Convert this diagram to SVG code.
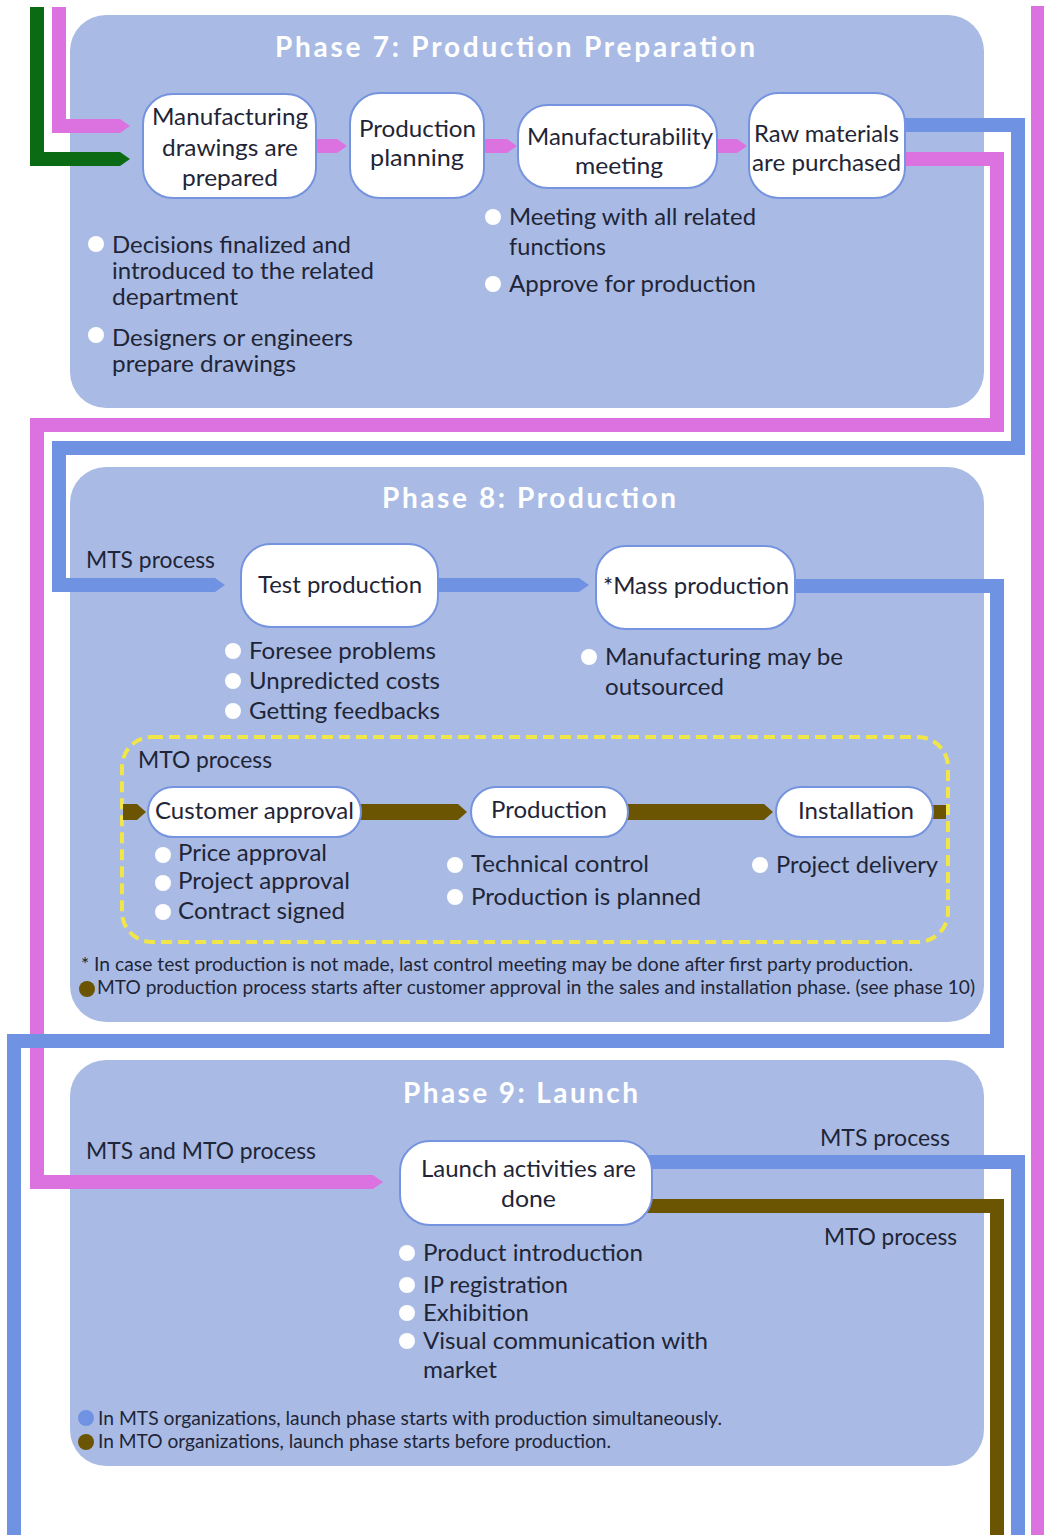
<svg xmlns="http://www.w3.org/2000/svg" width="1044" height="1535" viewBox="0 0 1044 1535">
  <style>
    .panel { fill: #a9bbe4; }
    .node { fill: #ffffff; stroke: #7593de; stroke-width: 2; }
    .t { font-family: Lato, "Open Sans", sans-serif; font-size: 23.5px; fill: #1f2537; }
    .fn { font-family: Lato, "Open Sans", sans-serif; font-size: 18.5px; fill: #1f2537; }
    .title { font-family: Lato, "Open Sans", sans-serif; font-size: 28px; font-weight: 700; fill: #ffffff; }
    .bul { fill: #ffffff; }
    .line { fill: none; stroke-width: 14; stroke-linejoin: miter; stroke-linecap: butt; }
    .pink { stroke: #dc72e0; }
    .blue { stroke: #7092e3; }
    .green { stroke: #0b6b14; }
    .brown { stroke: #6b5402; }
    .brownbar { fill: none; stroke: #6b5402; stroke-width: 16; stroke-linecap: butt; }
    .mto { fill: none; stroke: #f0e549; stroke-width: 4; stroke-dasharray: 11 6; }
  </style>
  <defs>
    <marker id="tipPink" markerUnits="userSpaceOnUse" markerWidth="10" markerHeight="14" viewBox="0 0 10 14" refX="0" refY="7" orient="auto">
      <path d="M0,0 L10,7 L0,14 Z" fill="#dc72e0"/>
    </marker>
    <marker id="tipBlue" markerUnits="userSpaceOnUse" markerWidth="10" markerHeight="14" viewBox="0 0 10 14" refX="0" refY="7" orient="auto">
      <path d="M0,0 L10,7 L0,14 Z" fill="#7092e3"/>
    </marker>
    <marker id="tipGreen" markerUnits="userSpaceOnUse" markerWidth="10" markerHeight="14" viewBox="0 0 10 14" refX="0" refY="7" orient="auto">
      <path d="M0,0 L10,7 L0,14 Z" fill="#0b6b14"/>
    </marker>
    <marker id="tipBrown" markerUnits="userSpaceOnUse" markerWidth="9" markerHeight="16" viewBox="0 0 9 16" refX="0" refY="8" orient="auto">
      <path d="M0,0 L9,8 L0,16 Z" fill="#6b5402"/>
    </marker>
  </defs>

  <rect width="1044" height="1535" fill="#ffffff"/>

  <!-- phase panels -->
  <g id="panels">
    <rect id="phase7" class="panel" x="70" y="15" width="914" height="393" rx="36"/>
    <rect id="phase8" class="panel" x="70" y="467" width="914" height="555" rx="36"/>
    <rect id="phase9" class="panel" x="70" y="1060" width="914" height="406" rx="36"/>
    <rect id="mto-box" class="mto" x="122" y="737" width="826" height="205" rx="30"/>
  </g>

  <!-- flow lines -->
  <g id="connectors">
    <path class="line pink" d="M1038,6 V1535"/>
    <path class="line green" d="M37,7 V159 H120" marker-end="url(#tipGreen)"/>
    <path class="line pink" d="M59,7 V126 H120" marker-end="url(#tipPink)"/>
    <path class="line pink" d="M310,146 H337" marker-end="url(#tipPink)"/>
    <path class="line pink" d="M478,146 H507" marker-end="url(#tipPink)"/>
    <path class="line pink" d="M712,146 H737" marker-end="url(#tipPink)"/>
    <path class="line blue" d="M898,125 H1018 V448 H59 V585 H215" marker-end="url(#tipBlue)"/>
    <path class="line pink" d="M898,159 H997 V425 H37 V1182 H373" marker-end="url(#tipPink)"/>
    <path class="line blue" d="M432,585 H579" marker-end="url(#tipBlue)"/>
    <path class="line blue" d="M788,586 H997 V1041 H14 V1535"/>
    <path class="line blue" d="M645,1162 H1018 V1535"/>
    <path class="line brown" d="M645,1206 H997 V1535"/>
    <path class="brownbar" d="M123,812 H137" marker-end="url(#tipBrown)"/>
    <path class="brownbar" d="M355,812 H458" marker-end="url(#tipBrown)"/>
    <path class="brownbar" d="M622,812 H764" marker-end="url(#tipBrown)"/>
    <path class="brownbar" d="M926,812 H946" style="stroke-width:14"/>
  </g>

  <!-- Phase 7 -->
  <text class="title" x="275" y="57" textLength="480" lengthAdjust="spacing">Phase 7: Production Preparation</text>

  <g id="n-drawings">
    <rect class="node" x="143" y="94" width="173" height="104" rx="30"/>
    <text class="t" x="152" y="125" textLength="156" lengthAdjust="spacingAndGlyphs">Manufacturing</text>
    <text class="t" x="162" y="156" textLength="136" lengthAdjust="spacingAndGlyphs">drawings are</text>
    <text class="t" x="182" y="186" textLength="96" lengthAdjust="spacingAndGlyphs">prepared</text>
  </g>
  <g id="n-planning">
    <rect class="node" x="350" y="93" width="134" height="105" rx="30"/>
    <text class="t" x="359" y="137" textLength="117" lengthAdjust="spacingAndGlyphs">Production</text>
    <text class="t" x="370" y="166" textLength="94" lengthAdjust="spacingAndGlyphs">planning</text>
  </g>
  <g id="n-meeting">
    <rect class="node" x="518" y="105" width="199" height="83" rx="30"/>
    <text class="t" x="527" y="145" textLength="186" lengthAdjust="spacingAndGlyphs">Manufacturability</text>
    <text class="t" x="575" y="174" textLength="88" lengthAdjust="spacingAndGlyphs">meeting</text>
  </g>
  <g id="n-materials">
    <rect class="node" x="749" y="93" width="156" height="105" rx="30"/>
    <text class="t" x="754" y="142" textLength="145" lengthAdjust="spacingAndGlyphs">Raw materials</text>
    <text class="t" x="752" y="171" textLength="149" lengthAdjust="spacingAndGlyphs">are purchased</text>
  </g>

  <g id="notes-7">
    <circle class="bul" cx="96" cy="244" r="8"/>
    <text class="t" x="112" y="253" textLength="239" lengthAdjust="spacingAndGlyphs">Decisions finalized and</text>
    <text class="t" x="112" y="279" textLength="262" lengthAdjust="spacingAndGlyphs">introduced to the related</text>
    <text class="t" x="112" y="305" textLength="126" lengthAdjust="spacingAndGlyphs">department</text>
    <circle class="bul" cx="96" cy="335" r="8"/>
    <text class="t" x="112" y="346" textLength="241" lengthAdjust="spacingAndGlyphs">Designers or engineers</text>
    <text class="t" x="112" y="372" textLength="184" lengthAdjust="spacingAndGlyphs">prepare drawings</text>
    <circle class="bul" cx="493" cy="217" r="8"/>
    <text class="t" x="509" y="225" textLength="247" lengthAdjust="spacingAndGlyphs">Meeting with all related</text>
    <text class="t" x="509" y="255" textLength="97" lengthAdjust="spacingAndGlyphs">functions</text>
    <circle class="bul" cx="493" cy="284" r="8"/>
    <text class="t" x="509" y="292" textLength="247" lengthAdjust="spacingAndGlyphs">Approve for production</text>
  </g>

  <!-- Phase 8 -->
  <text class="title" x="382" y="508" textLength="294" lengthAdjust="spacing">Phase 8: Production</text>
  <text class="t" x="86" y="568" textLength="129" lengthAdjust="spacingAndGlyphs">MTS process</text>

  <g id="n-test">
    <rect class="node" x="241" y="544" width="197" height="83" rx="30"/>
    <text class="t" x="258" y="593" textLength="164" lengthAdjust="spacingAndGlyphs">Test production</text>
  </g>
  <g id="n-mass">
    <rect class="node" x="596" y="546" width="199" height="83" rx="30"/>
    <text class="t" x="603" y="594" textLength="186" lengthAdjust="spacingAndGlyphs">*Mass production</text>
  </g>

  <g id="notes-8">
    <circle class="bul" cx="233" cy="651" r="8"/>
    <text class="t" x="249" y="659" textLength="187" lengthAdjust="spacingAndGlyphs">Foresee problems</text>
    <circle class="bul" cx="233" cy="681" r="8"/>
    <text class="t" x="249" y="689" textLength="191" lengthAdjust="spacingAndGlyphs">Unpredicted costs</text>
    <circle class="bul" cx="233" cy="711" r="8"/>
    <text class="t" x="249" y="719" textLength="191" lengthAdjust="spacingAndGlyphs">Getting feedbacks</text>
    <circle class="bul" cx="589" cy="657" r="8"/>
    <text class="t" x="605" y="665" textLength="238" lengthAdjust="spacingAndGlyphs">Manufacturing may be</text>
    <text class="t" x="605" y="695" textLength="119" lengthAdjust="spacingAndGlyphs">outsourced</text>
  </g>

  <text class="t" x="138" y="768" textLength="134" lengthAdjust="spacingAndGlyphs">MTO process</text>

  <g id="n-customer">
    <rect class="node" x="148" y="787" width="213" height="50" rx="25"/>
    <text class="t" x="155" y="819" textLength="199" lengthAdjust="spacingAndGlyphs">Customer approval</text>
  </g>
  <g id="n-production">
    <rect class="node" x="471" y="787" width="157" height="50" rx="25"/>
    <text class="t" x="491" y="818" textLength="116" lengthAdjust="spacingAndGlyphs">Production</text>
  </g>
  <g id="n-installation">
    <rect class="node" x="776" y="787" width="157" height="50" rx="25"/>
    <text class="t" x="798" y="819" textLength="116" lengthAdjust="spacingAndGlyphs">Installation</text>
  </g>

  <g id="notes-mto">
    <circle class="bul" cx="163" cy="855" r="8"/>
    <text class="t" x="178" y="861" textLength="149" lengthAdjust="spacingAndGlyphs">Price approval</text>
    <circle class="bul" cx="163" cy="883" r="8"/>
    <text class="t" x="178" y="889" textLength="172" lengthAdjust="spacingAndGlyphs">Project approval</text>
    <circle class="bul" cx="163" cy="912" r="8"/>
    <text class="t" x="178" y="919" textLength="167" lengthAdjust="spacingAndGlyphs">Contract signed</text>
    <circle class="bul" cx="455" cy="865" r="8"/>
    <text class="t" x="471" y="872" textLength="178" lengthAdjust="spacingAndGlyphs">Technical control</text>
    <circle class="bul" cx="455" cy="897" r="8"/>
    <text class="t" x="471" y="905" textLength="230" lengthAdjust="spacingAndGlyphs">Production is planned</text>
    <circle class="bul" cx="760" cy="865" r="8"/>
    <text class="t" x="776" y="873" textLength="162" lengthAdjust="spacingAndGlyphs">Project delivery</text>
  </g>

  <g id="footnotes-8">
    <text class="fn" x="81" y="971" textLength="832" lengthAdjust="spacingAndGlyphs">* In case test production is not made, last control meeting may be done after first party production.</text>
    <circle cx="87" cy="989" r="8" fill="#6b5402"/>
    <text class="fn" x="97" y="994" textLength="878" lengthAdjust="spacingAndGlyphs">MTO production process starts after customer approval in the sales and installation phase. (see phase 10)</text>
  </g>

  <!-- Phase 9 -->
  <text class="title" x="403" y="1103" textLength="235" lengthAdjust="spacing">Phase 9: Launch</text>
  <text class="t" x="86" y="1159" textLength="230" lengthAdjust="spacingAndGlyphs">MTS and MTO process</text>
  <text class="t" x="820" y="1146" textLength="130" lengthAdjust="spacingAndGlyphs">MTS process</text>
  <text class="t" x="824" y="1245" textLength="133" lengthAdjust="spacingAndGlyphs">MTO process</text>

  <g id="n-launch">
    <rect class="node" x="400" y="1141" width="252" height="84" rx="30"/>
    <text class="t" x="421" y="1177" textLength="215" lengthAdjust="spacingAndGlyphs">Launch activities are</text>
    <text class="t" x="501" y="1207" textLength="55" lengthAdjust="spacingAndGlyphs">done</text>
  </g>

  <g id="notes-9">
    <circle class="bul" cx="407" cy="1253" r="8"/>
    <text class="t" x="423" y="1261" textLength="220" lengthAdjust="spacingAndGlyphs">Product introduction</text>
    <circle class="bul" cx="407" cy="1285" r="8"/>
    <text class="t" x="423" y="1293" textLength="145" lengthAdjust="spacingAndGlyphs">IP registration</text>
    <circle class="bul" cx="407" cy="1313" r="8"/>
    <text class="t" x="423" y="1321" textLength="106" lengthAdjust="spacingAndGlyphs">Exhibition</text>
    <circle class="bul" cx="407" cy="1341" r="8"/>
    <text class="t" x="423" y="1349" textLength="285" lengthAdjust="spacingAndGlyphs">Visual communication with</text>
    <text class="t" x="423" y="1378" textLength="74" lengthAdjust="spacingAndGlyphs">market</text>
  </g>

  <g id="footnotes-9">
    <circle cx="86" cy="1418" r="8" fill="#7092e3"/>
    <text class="fn" x="98" y="1425" textLength="624" lengthAdjust="spacingAndGlyphs">In MTS organizations, launch phase starts with production simultaneously.</text>
    <circle cx="86" cy="1442" r="8" fill="#6b5402"/>
    <text class="fn" x="98" y="1448" textLength="513" lengthAdjust="spacingAndGlyphs">In MTO organizations, launch phase starts before production.</text>
  </g>
</svg>
